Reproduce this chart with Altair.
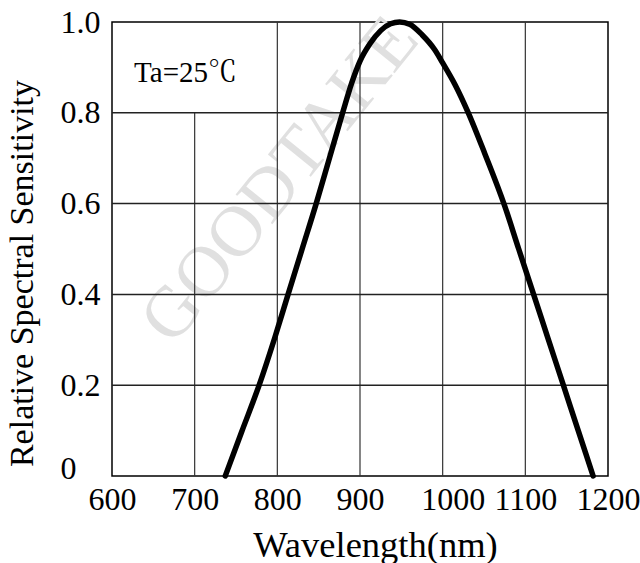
import altair as alt
import pandas as pd

# Curve
wavelength = [737, 757, 778, 797, 813, 830, 847, 863, 879, 890, 900, 912, 925, 937, 948,
              960, 975, 990, 1000, 1015, 1031, 1051, 1075, 1092, 1110, 1128, 1146, 1164, 1182]
sensitivity = [0.0, 0.098, 0.2, 0.305, 0.4, 0.5, 0.6, 0.7, 0.8, 0.866, 0.914, 0.952, 0.981, 0.996, 1.0,
               0.995, 0.972, 0.94, 0.91, 0.862, 0.8, 0.71, 0.595, 0.5, 0.4, 0.3, 0.2, 0.1, 0.0]

x_ticks = [600, 700, 800, 900, 1000, 1100, 1200]
y_ticks = [0, 0.2, 0.4, 0.6, 0.8, 1.0]

# grid lines
vgrid_x = [700, 800, 900, 1000, 1100]
vgrid_top = [0.8, 1.0, 1.0, 1.0, 1.0]
hgrid_y = [0.2, 0.4, 0.6, 0.8]

# annotations
note_text = ["Ta=25℃"]
note_x = [689]
note_y = [0.888]
wm_text = ["GOODTAKE"]
wm_x = [803]
wm_y = [0.652]

FONT = "Liberation Serif, Times New Roman, Noto Serif CJK SC, Noto Sans CJK SC, serif"

xscale = alt.Scale(domain=[600, 1200], nice=False, zero=False)
yscale = alt.Scale(domain=[0, 1], nice=False)

xaxis = alt.Axis(values=x_ticks, format="d", grid=False, ticks=False, domain=False,
                 labelFont=FONT, labelFontSize=32, labelColor="black",
                 labelPadding=8, labelFlush=False, labelOverlap=False,
                 labelOffset={"condition": {"test": "datum.value == 1000", "value": 10}, "value": 0},
                 titleFont=FONT, titleFontSize=36.5, titleFontWeight="normal",
                 titleColor="black", titleX=263, titleY=69,
                 titleBaseline="middle", titleAlign="center")
yaxis = alt.Axis(values=y_ticks, grid=False, ticks=False, domain=False,
                 labelExpr="datum.value == 0 ? '0' : format(datum.value, '.1f')",
                 labelFont=FONT, labelFontSize=32, labelColor="black",
                 labelAlign="left", labelPadding=52, labelFlush=False, labelOverlap=False,
                 labelOffset={"condition": {"test": "datum.value == 0", "value": -8}, "value": 0},
                 titleFont=FONT, titleFontSize=34, titleFontWeight="normal",
                 titleColor="black", titleX=-90, titleY=251, titleAngle=270,
                 titleBaseline="middle", titleAlign="center")
XT = "Wavelength(nm)"
YT = "Relative Spectral Sensitivity"

curve_df = pd.DataFrame({"wl": wavelength, "s": sensitivity})
vg_df = pd.DataFrame({"x": vgrid_x, "y0": [0] * len(vgrid_x), "y1": vgrid_top})
hg_df = pd.DataFrame({"y": hgrid_y, "x0": [600] * len(hgrid_y), "x1": [1200] * len(hgrid_y)})
note_df = pd.DataFrame({"t": note_text, "x": note_x, "y": note_y})
wm_df = pd.DataFrame({"t": wm_text, "x": wm_x, "y": wm_y})

watermark = alt.Chart(wm_df).mark_text(
    font=FONT, fontSize=72, color="#e0e0e0", angle=309, align="center", baseline="middle"
).encode(
    x=alt.X("x:Q", scale=xscale, axis=xaxis, title=XT),
    y=alt.Y("y:Q", scale=yscale, axis=yaxis, title=YT),
    text="t:N",
)

vgrid = alt.Chart(vg_df).mark_rule(color="#333333", strokeWidth=1.2).encode(
    x=alt.X("x:Q", scale=xscale, axis=xaxis, title=XT),
    y=alt.Y("y0:Q", scale=yscale, axis=yaxis, title=YT),
    y2="y1:Q",
)

hgrid = alt.Chart(hg_df).mark_rule(color="#222222", strokeWidth=1.5).encode(
    y=alt.Y("y:Q", scale=yscale, axis=yaxis, title=YT),
    x=alt.X("x0:Q", scale=xscale, axis=xaxis, title=XT),
    x2="x1:Q",
)

note = alt.Chart(note_df).mark_text(
    font=FONT, fontSize=29, color="black", align="center", baseline="middle"
).encode(
    x=alt.X("x:Q", scale=xscale, axis=xaxis, title=XT),
    y=alt.Y("y:Q", scale=yscale, axis=yaxis, title=YT),
    text="t:N",
)

curve = alt.Chart(curve_df).mark_line(
    color="black", strokeWidth=5.5, interpolate="monotone", strokeCap="round"
).encode(
    x=alt.X("wl:Q", scale=xscale, axis=xaxis, title=XT),
    y=alt.Y("s:Q", scale=yscale, axis=yaxis, title=YT),
)

chart = alt.layer(watermark, vgrid, hgrid, note, curve).properties(
    width=496,
    height=454,
    autosize=alt.AutoSizeParams(type="none"),
    padding={"left": 112, "top": 22, "right": 32, "bottom": 87},
    background="white",
).configure_view(stroke="black", strokeWidth=1.5)

chart.save("out.html", embed_options={"renderer": "svg", "actions": False})
